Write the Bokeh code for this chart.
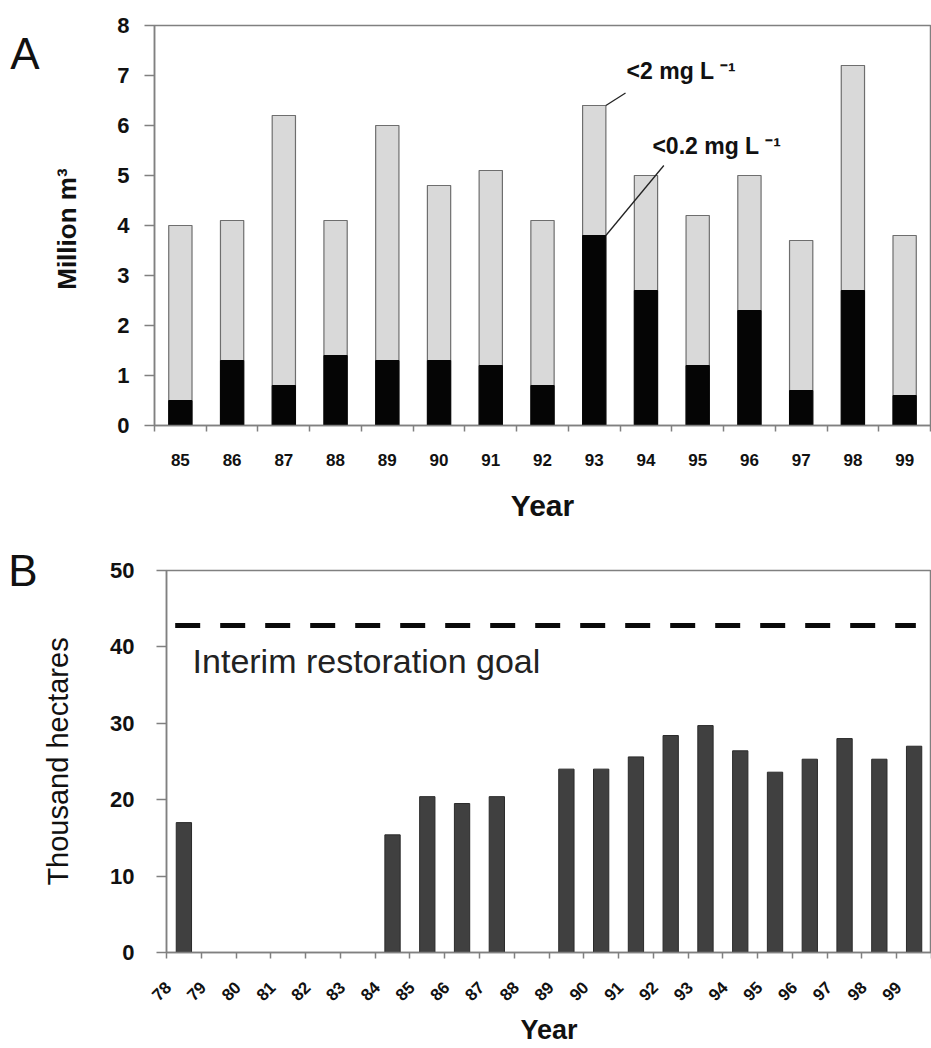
import math
from bokeh.plotting import figure
from bokeh.models import Range1d, FixedTicker, LinearAxis
from bokeh.core.properties import value
from bokeh.embed import file_html
from bokeh.resources import INLINE

# ---- Panel A data ----
years_a = ["85", "86", "87", "88", "89", "90", "91", "92", "93", "94", "95", "96", "97", "98", "99"]
total_a = [4.0, 4.1, 6.2, 4.1, 6.0, 4.8, 5.1, 4.1, 6.4, 5.0, 4.2, 5.0, 3.7, 7.2, 3.8]   # <2 mg/L
low_a = [0.5, 1.3, 0.8, 1.4, 1.3, 1.3, 1.2, 0.8, 3.8, 2.7, 1.2, 2.3, 0.7, 2.7, 0.6]     # <0.2 mg/L

# ---- Panel B data ----
years_b = ["78", "79", "80", "81", "82", "83", "84", "85", "86", "87", "88",
           "89", "90", "91", "92", "93", "94", "95", "96", "97", "98", "99"]
area_b = [17.0, None, None, None, None, None, 15.4, 20.4, 19.5, 20.4, None,
          24.0, 24.0, 25.6, 28.4, 29.7, 26.4, 23.6, 25.3, 28.0, 25.3, 27.0]
goal_b = 42.8

FONT = "Liberation Sans"
AXC = "#808080"
TXT = "#111111"

def style_common(p):
    p.xgrid.visible = False
    p.ygrid.visible = False
    p.outline_line_color = AXC
    p.outline_line_width = 1.5
    for ax in (p.xaxis[0], p.yaxis[0]):
        ax.axis_line_color = AXC
        ax.axis_line_width = 1.5
        ax.major_label_text_font = FONT
        ax.axis_label_text_font = FONT
        ax.major_label_text_color = TXT
        ax.axis_label_text_color = TXT

def panel_letter(p, letter, at, standoff):
    ax = LinearAxis(ticker=FixedTicker(ticks=[at]), major_label_overrides={at: letter})
    ax.axis_line_color = None
    ax.major_tick_line_color = None
    ax.minor_tick_line_color = None
    ax.major_tick_out = 0
    ax.major_tick_in = 0
    ax.major_label_standoff = standoff
    ax.major_label_text_font = FONT
    ax.major_label_text_font_size = "44px"
    ax.major_label_text_color = TXT
    p.add_layout(ax, "left")

# ================= Panel A =================
na = len(years_a)
pa = figure(width=931, height=538, x_range=Range1d(0, na), y_range=Range1d(0, 8),
            output_backend="svg", toolbar_location=None,
            min_border_left=154, min_border_right=1, min_border_top=25, min_border_bottom=113)
style_common(pa)
xs_a = [i + 0.5 for i in range(na)]
pa.vbar(x=xs_a, top=total_a, width=0.45, fill_color="#d9d9d9", line_color="#6e6e6e", line_width=1.2)
pa.vbar(x=xs_a, top=low_a, width=0.45, fill_color="#050505", line_color="#050505", line_width=1)

xa = pa.xaxis[0]
xa.ticker = FixedTicker(ticks=xs_a, minor_ticks=list(range(na + 1)))
xa.major_label_overrides = {x: lab for x, lab in zip(xs_a, years_a)}
xa.major_tick_out = 0
xa.major_tick_in = 0
xa.minor_tick_out = 6
xa.minor_tick_in = 0
xa.minor_tick_line_color = AXC
xa.minor_tick_line_width = 1.5
xa.major_label_text_font_size = "17px"
xa.major_label_text_font_style = "bold"
xa.major_label_standoff = 22
xa.axis_label = "Year"
xa.axis_label_text_font_size = "30px"
xa.axis_label_text_font_style = "bold"
xa.axis_label_standoff = 20

ya = pa.yaxis[0]
ya.ticker = FixedTicker(ticks=list(range(0, 9)))
ya.major_tick_out = 10
ya.major_tick_in = 0
ya.major_tick_line_color = AXC
ya.major_tick_line_width = 1.5
ya.minor_tick_line_color = None
ya.major_label_text_font_size = "22px"
ya.major_label_text_font_style = "bold"
ya.major_label_standoff = 15
ya.axis_label = "Million  m³"
ya.axis_label_text_font_size = "26px"
ya.axis_label_text_font_style = "bold"
ya.axis_label_standoff = 32

panel_letter(pa, "A", 7.45, 10)

# annotations for the 93 bar
i93 = years_a.index("93")
bx = xs_a[i93] + 0.225
pa.segment(x0=[bx, bx], y0=[total_a[i93], low_a[i93]], x1=[bx + 0.38, bx + 1.12], y1=[total_a[i93] + 0.25, 5.2],
           line_color="#222222", line_width=1.3)
pa.text(x=[bx + 0.40, bx + 0.90], y=[7.1, 5.6], text=["<2 mg L ⁻¹", "<0.2 mg L ⁻¹"],
        text_font=value(FONT), text_font_style="bold", text_font_size="23px",
        text_baseline="middle", text_align="left", text_color=TXT)

# ================= Panel B =================
nb = len(years_b)
pb = figure(width=931, height=510, x_range=Range1d(0, nb), y_range=Range1d(0, 50),
            output_backend="svg", toolbar_location=None,
            min_border_left=166, min_border_right=0, min_border_top=32, min_border_bottom=94)
style_common(pb)
xs_b = [i + 0.5 for i in range(nb)]
bx_b = [x for x, v in zip(xs_b, area_b) if v is not None]
bt_b = [v for v in area_b if v is not None]
pb.vbar(x=bx_b, top=bt_b, width=0.44, fill_color="#404040", line_color="#2a2a2a", line_width=1)

pb.line(x=[0.25, 21.55], y=[goal_b, goal_b], line_color="#0a0a0a", line_width=5, line_dash="25 20")
pb.text(x=[0.75], y=[38.2], text=["Interim restoration goal"], text_font=value(FONT),
        text_font_size="34px", text_baseline="alphabetic", text_align="left", text_color="#222222")

LABEL_SHIFT = 0.45   # rotated year labels sit slightly left of the bar centres
lab_pos_b = [x - LABEL_SHIFT for x in xs_b]
xb = pb.xaxis[0]
xb.ticker = FixedTicker(ticks=lab_pos_b, minor_ticks=list(range(nb + 1)))
xb.major_label_overrides = {x: lab for x, lab in zip(lab_pos_b, years_b)}
xb.major_tick_out = 0
xb.major_tick_in = 0
xb.minor_tick_out = 6
xb.minor_tick_in = 0
xb.minor_tick_line_color = AXC
xb.minor_tick_line_width = 1.5
xb.major_label_orientation = math.pi / 4
xb.major_label_text_font_size = "17px"
xb.major_label_text_font_style = "bold"
xb.major_label_standoff = 26
xb.axis_label = "Year"
xb.axis_label_text_font_size = "27px"
xb.axis_label_text_font_style = "bold"
xb.axis_label_standoff = 6

yb = pb.yaxis[0]
yb.ticker = FixedTicker(ticks=[0, 10, 20, 30, 40, 50])
yb.major_tick_out = 10
yb.major_tick_in = 0
yb.major_tick_line_color = AXC
yb.major_tick_line_width = 1.5
yb.minor_tick_line_color = None
yb.major_label_text_font_size = "22px"
yb.major_label_text_font_style = "bold"
yb.major_label_standoff = 22
yb.axis_label = "Thousand hectares"
yb.axis_label_text_font_size = "29px"
yb.axis_label_text_font_style = "normal"
yb.axis_label_standoff = 33

panel_letter(pb, "B", 50, 2)

open("out.html", "w").write(file_html([pa, pb], INLINE))
